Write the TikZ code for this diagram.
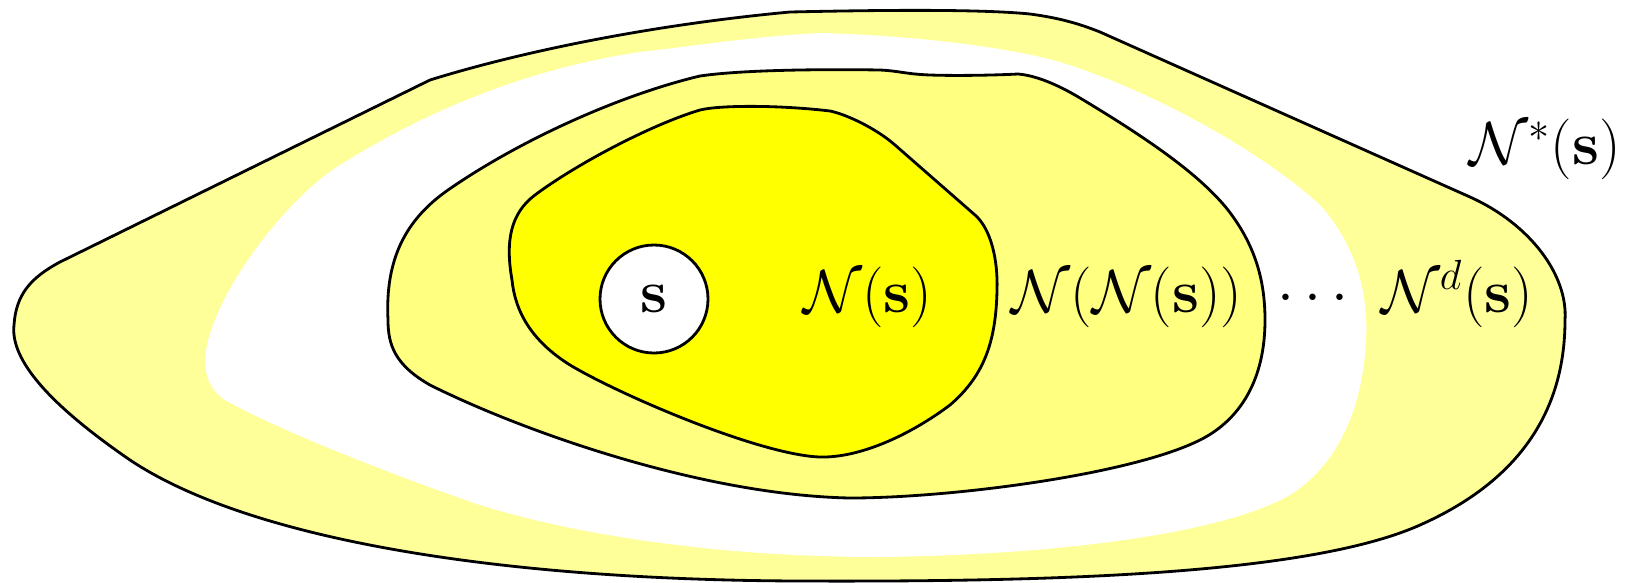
\documentclass[tikz,border=0pt]{standalone}
\usepackage{amsmath}
\usepackage{amssymb}
\usepackage{tikz}
\usetikzlibrary{calc}

\definecolor{nsfill}{RGB}{255,255,0}
\definecolor{nnsfill}{RGB}{255,255,128}
\definecolor{nstarfill}{RGB}{255,255,153}

\begin{document}
\begin{tikzpicture}[x=0.1mm, y=-0.1mm,
    blob/.style={draw=black, thick},
    lbl/.style={anchor=base, inner sep=0pt, font=\fontsize{18}{22}\selectfont}]
  \useasboundingbox (0,0) rectangle (1627,582);
  % outer set N^*(s)
  \draw[blob, fill=nstarfill] (60,262) -- (430,80)
    .. controls (520,52) and (650,25) .. (790,12)
    .. controls (880,10) and (980,9) .. (1030,14)
    .. controls (1060,18) and (1080,24) .. (1100,32) -- (1470,197)
    .. controls (1530,224) and (1568,275) .. (1565,320)
    .. controls (1565,420) and (1510,485) .. (1420,525)
    .. controls (1308,575) and (1050,582) .. (800,581)
    .. controls (500,580) and (250,540) .. (130,460)
    .. controls (50,405) and (10,360) .. (14,325)
    .. controls (16,295) and (30,278) .. (60,262) -- cycle;
  % gap between N^d(s) and the rest
  \fill[white] (205,360) .. controls (208,300) and (285,199) .. (340,165)
    .. controls (420,115) and (520,70) .. (640,52)
    .. controls (700,45) and (760,36) .. (820,33)
    .. controls (900,35) and (1000,45) .. (1060,62)
    .. controls (1150,90) and (1260,150) .. (1320,205)
    .. controls (1360,250) and (1368,300) .. (1366,340)
    .. controls (1362,420) and (1330,470) .. (1290,495)
    .. controls (1220,535) and (1050,555) .. (880,557)
    .. controls (700,557) and (560,530) .. (480,505)
    .. controls (350,460) and (260,420) .. (225,400)
    .. controls (210,390) and (205,375) .. (205,360) -- cycle;
  % N(N(s))
  \draw[blob, fill=nnsfill] (388,320) .. controls (385,260) and (405,220) .. (448,190)
    .. controls (520,140) and (620,95) .. (700,76)
    .. controls (740,70) and (820,69) .. (880,70)
    .. controls (900,71) and (905,74) .. (930,75)
    .. controls (960,76) and (1000,75) .. (1018,74)
    .. controls (1030,75) and (1050,80) .. (1080,98)
    .. controls (1150,140) and (1200,175) .. (1228,210)
    .. controls (1255,245) and (1265,280) .. (1265,320)
    .. controls (1265,380) and (1240,420) .. (1200,440)
    .. controls (1130,475) and (950,498) .. (850,498)
    .. controls (700,495) and (520,430) .. (430,385)
    .. controls (395,365) and (388,345) .. (388,320) -- cycle;
  % N(s)
  \draw[blob, fill=nsfill] (512,280) .. controls (505,240) and (511,213) .. (535,195)
    .. controls (575,165) and (650,125) .. (700,110)
    .. controls (720,105) and (780,105) .. (830,111)
    .. controls (845,114) and (875,127.5) .. (895,145) -- (975,215)
    .. controls (991,229) and (998,260) .. (997,290)
    .. controls (996,340) and (985,375) .. (950,405)
    .. controls (910,435) and (860,458) .. (820,457)
    .. controls (760,455) and (620,395) .. (570,365)
    .. controls (530,340) and (515,310) .. (512,280) -- cycle;
  \node[circle, blob, fill=white, minimum size=10.8mm, inner sep=0pt,
    font=\fontsize{18}{22}\selectfont] (s) at (654,299) {$\mathbf{s}$};
  \node[lbl] (ns) at (868,312) {$\mathcal{N}(\mathbf{s})$};
  \node[lbl] (nns) at (1127,312) {$\mathcal{N}(\mathcal{N}(\mathbf{s}))$};
  \node[lbl] (dots) at (1318,312) {$\cdots$};
  \node[lbl] (nds) at (1457,312) {$\mathcal{N}^d(\mathbf{s})$};
  \node[lbl] (nstar) at (1545,164) {$\mathcal{N}^*(\mathbf{s})$};
\end{tikzpicture}
\end{document}
